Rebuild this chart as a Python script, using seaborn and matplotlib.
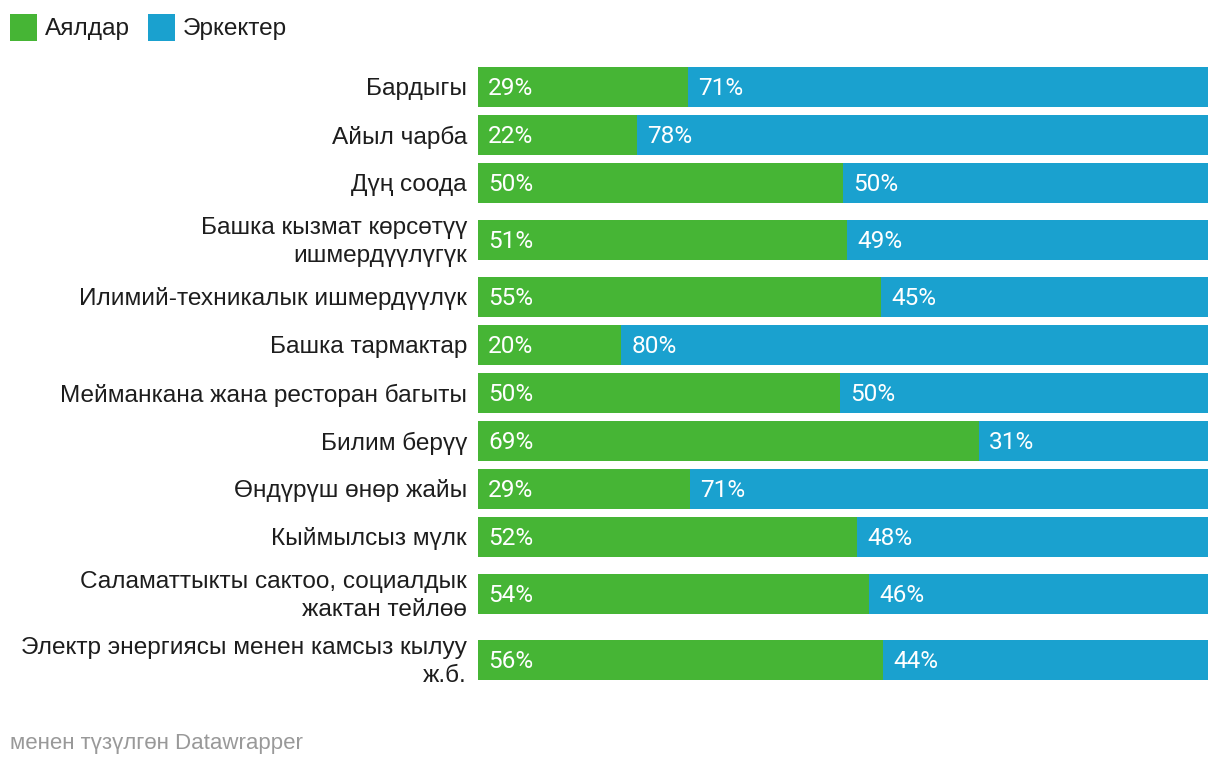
import numpy as np
import pandas as pd
import matplotlib
matplotlib.use("Agg")
import matplotlib.pyplot as plt
import matplotlib.transforms as mtransforms
from matplotlib.patches import Rectangle
import seaborn as sns

# Data
sectors = [
    "Бардыгы",
    "Айыл чарба",
    "Дүң соода",
    "Башка кызмат көрсөтүү\nишмердүүлүгүк",
    "Илимий-техникалык ишмердүүлүк",
    "Башка тармактар",
    "Мейманкана жана ресторан багыты",
    "Билим берүү",
    "Өндүрүш өнөр жайы",
    "Кыймылсыз мүлк",
    "Саламаттыкты сактоо, социалдык\nжактан тейлөө",
    "Электр энергиясы менен камсыз кылуу\nж.б.",
]
women = [28.8, 21.8, 50.0, 50.6, 55.2, 19.6, 49.6, 68.6, 29.0, 51.9, 53.6, 55.5]
men = [71.2, 78.2, 50.0, 49.4, 44.8, 80.4, 50.4, 31.4, 71.0, 48.1, 46.4, 44.5]
series = ["Аялдар", "Эркектер"]

GREEN = "#46b535"
BLUE = "#1aa1cf"
TEXT = "#1d1d1d"
FS = 17.6

sns.set_theme(style="white")
plt.rcParams["font.family"] = ["Liberation Sans", "DejaVu Sans"]

# row positions: extra room for wrapped labels
lines = [s.count("\n") + 1 for s in sectors]
pos = [0.0]
for i in range(1, len(sectors)):
    pos.append(pos[-1] + 48 + 9 * (lines[i - 1] - 1) + 9 * (lines[i] - 1))
pos = np.array(pos) + 87

df = pd.DataFrame({"sector": sectors, "pos": pos, "women": women, "men": men})
df["total"] = df["women"] + df["men"]

fig = plt.figure(figsize=(12.2, 7.66), dpi=100)
ax = fig.add_axes([478 / 1220, 1 - 690 / 766, 730 / 1220, 630 / 766])

sns.barplot(data=df, x="total", y="pos", orient="h", native_scale=True,
            color=BLUE, width=40 / 48, saturation=1, linewidth=0, ax=ax)
sns.barplot(data=df, x="women", y="pos", orient="h", native_scale=True,
            color=GREEN, width=40 / 48, saturation=1, linewidth=0, ax=ax)

ax.set_xlim(0, df["total"].max())
ax.set_ylim(690, 60)
ax.set_xlabel("")
ax.set_ylabel("")
ax.set_xticks([])
ax.set_yticks([])
for sp in ax.spines.values():
    sp.set_visible(False)

trans = mtransforms.blended_transform_factory(ax.transAxes, ax.transData)
pct_font = ["Roboto", "DejaVu Sans"]
for _, r in df.iterrows():
    ax.text(-0.015, r["pos"] + 2, r["sector"], transform=trans, ha="right", va="center",
            fontsize=FS, color=TEXT, linespacing=1.4)
    ax.text(1.4, r["pos"] + 1.5, f"{round(r['women'])}%", ha="left", va="center",
            fontsize=FS, color="white", family=pct_font)
    ax.text(r["women"] + 1.4, r["pos"] + 1.5, f"{round(r['men'])}%", ha="left", va="center",
            fontsize=FS, color="white", family=pct_font)

# legend
for x0, name, col in [(10, series[0], GREEN), (148, series[1], BLUE)]:
    fig.patches.append(Rectangle((x0 / 1220, 1 - 41 / 766), 27 / 1220, 27 / 766,
                                 transform=fig.transFigure, color=col, lw=0))
    fig.text((x0 + 35) / 1220, 1 - 29 / 766, name, ha="left", va="center",
             fontsize=FS, color=TEXT)

fig.text(10 / 1220, 1 - 744 / 766, "менен түзүлгөн Datawrapper", ha="left", va="center",
         fontsize=16, color="#999999")

fig.savefig("out.png", dpi=100, facecolor="white")
